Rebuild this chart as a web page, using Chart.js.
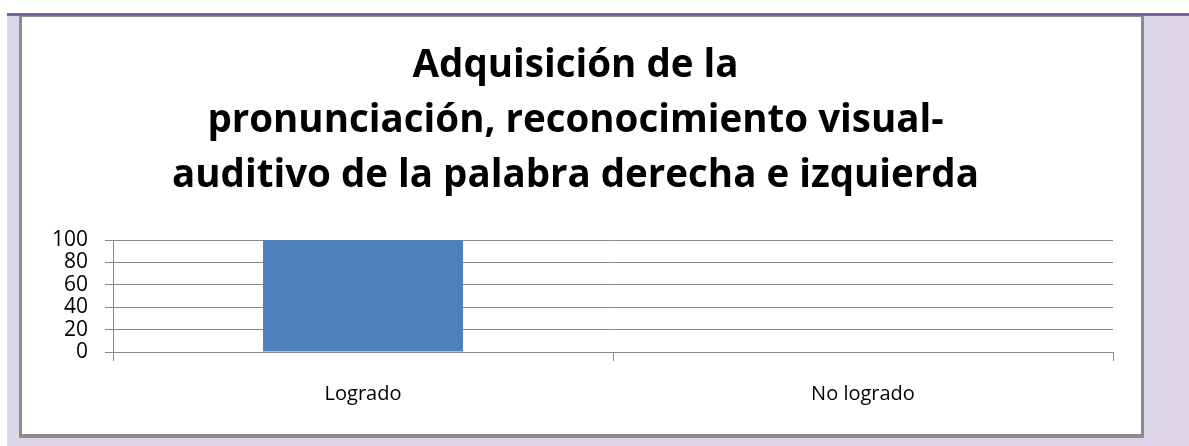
<!DOCTYPE html>
<html>
<head>
<meta charset="utf-8">
<script src="https://cdn.jsdelivr.net/npm/chart.js@4"></script>
<style>
    html, body {
        margin: 0;
        padding: 0;
        background: #ffffff;
        width: 1189px;
        height: 446px;
        overflow: hidden;
    }
    .page {
        position: absolute;
        left: 7px;
        top: 13px;
        width: 1182px;
        height: 433px;
        background: #dcd6e8;
        border-top: 3px solid #8064a2;
        box-sizing: border-box;
    }
    .chart-box {
        position: absolute;
        left: 19px;
        top: 16px;
        width: 1119px;
        height: 417px;
        background: #ffffff;
        border: 3px solid #8c8c8c;
        border-top-width: 1px;
        border-bottom-width: 4px;
    }
    .chart-box canvas {
        display: block;
    }
</style>
</head>
<body>
<div class="page"></div>
<div class="chart-box">
    <canvas id="resultChart" width="1119" height="417"></canvas>
</div>
<script>
const titleLines = [
    'Adquisición de la',
    'pronunciación, reconocimiento visual-',
    'auditivo de la palabra derecha e izquierda'
];
const categories = ['Logrado', 'No logrado'];
const percentValues = [100, 0];
const yTicks = [0, 20, 40, 60, 80, 100];

const gridGray = '#8a8a8a';
const textFont = '"Open Sans", Lato, sans-serif';

const ctx = document.getElementById('resultChart').getContext('2d');
const chart = new Chart(ctx, {
    type: 'bar',
    data: {
        labels: categories,
        datasets: [{
            data: percentValues,
            backgroundColor: '#4f81bd',
            borderWidth: 0,
            barPercentage: 0.4,
            categoryPercentage: 1
        }]
    },
    options: {
        responsive: false,
        animation: false,
        layout: {
            padding: { left: 16, right: 28, top: 0, bottom: 0 }
        },
        plugins: {
            legend: { display: false },
            tooltip: { enabled: false },
            title: {
                display: true,
                text: titleLines,
                color: '#000000',
                font: { family: textFont, size: 38.5, weight: 'bold', lineHeight: 1.42 },
                padding: { top: 22, bottom: 37 }
            }
        },
        scales: {
            x: {
                offset: true,
                grid: {
                    display: true,
                    drawOnChartArea: false,
                    drawTicks: true,
                    tickLength: 9,
                    color: gridGray,
                    lineWidth: 1
                },
                border: { display: true, color: gridGray, width: 1 },
                ticks: {
                    color: '#000000',
                    font: { family: textFont, size: 20 },
                    padding: 21
                },
                afterFit: (scale) => { scale.height = 82; }
            },
            y: {
                min: 0,
                max: 100,
                afterBuildTicks: (scale) => {
                    scale.ticks = yTicks.map(v => ({ value: v }));
                },
                grid: {
                    color: gridGray,
                    lineWidth: 1,
                    drawTicks: true,
                    tickLength: 8
                },
                border: { display: true, color: gridGray, width: 1 },
                ticks: {
                    autoSkip: false,
                    color: '#000000',
                    font: { family: textFont, size: 21, lineHeight: 1 },
                    padding: 17
                },
                afterFit: (scale) => { scale.width = 75; }
            }
        }
    }
});
</script>
</body>
</html>
